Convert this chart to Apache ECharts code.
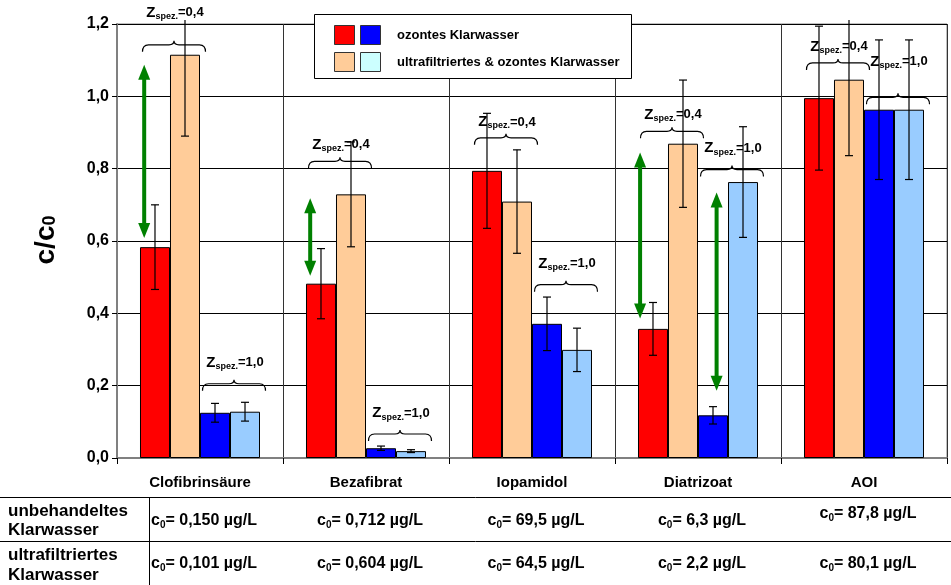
<!DOCTYPE html>
<html>
<head>
<meta charset="utf-8">
<script src="https://cdn.jsdelivr.net/npm/echarts@6/dist/echarts.min.js"></script>
<style>
  html, body { margin: 0; padding: 0; background: #fff; }
  #chart { width: 951px; height: 585px; }
</style>
</head>
<body>
<div id="chart"></div>
<script>
// Substances on the x axis
const categories = ['Clofibrinsäure', 'Bezafibrat', 'Iopamidol', 'Diatrizoat', 'AOI'];

// c/c0 after ozonation, specific ozone dose 0.4
const ozonZ04 = [0.583, 0.482, 0.794, 0.357, 0.995];
const ozonZ04Err = [0.117, 0.097, 0.159, 0.073, 0.199];
const ufOzonZ04 = [1.115, 0.729, 0.709, 0.869, 1.046];
const ufOzonZ04Err = [0.225, 0.145, 0.143, 0.176, 0.210];

// c/c0 after ozonation, specific ozone dose 1.0
const ozonZ10 = [0.125, 0.027, 0.371, 0.118, 0.963];
const ozonZ10Err = [0.026, 0.006, 0.074, 0.024, 0.193];
const ufOzonZ10 = [0.128, 0.019, 0.299, 0.763, 0.963];
const ufOzonZ10Err = [0.026, 0.004, 0.060, 0.153, 0.193];

// Starting concentrations for the table below the chart
const c0Untreated = ['0,150 µg/L', '0,712 µg/L', '69,5 µg/L', '6,3 µg/L', '87,8 µg/L'];
const c0Ultrafiltered = ['0,101 µg/L', '0,604 µg/L', '64,5 µg/L', '2,2 µg/L', '80,1 µg/L'];

// Brace annotations: [category, pair (0 = red/orange, 1 = blue/light blue), brace base, label height, dose]
const braces = [
  [0, 0, 1.123, 1.231, '0,4'], [0, 1, 0.186, 0.264, '1,0'],
  [1, 0, 0.801, 0.866, '0,4'], [1, 1, 0.047, 0.124, '1,0'],
  [2, 0, 0.866, 0.929, '0,4'], [2, 1, 0.460, 0.537, '1,0'],
  [3, 0, 0.884, 0.949, '0,4'], [3, 1, 0.778, 0.857, '1,0'],
  [4, 0, 1.073, 1.138, '0,4'], [4, 1, 0.978, 1.096, '1,0']
];

// Double arrows: [category, bar slot, upper end, lower end]
const arrows = [
  [0, -0.36, 1.087, 0.608],
  [1, -0.36, 0.718, 0.504],
  [3, -0.43, 0.845, 0.386],
  [3, 2.12, 0.734, 0.186]
];

const GAP = 0.277;
const barColors = ['#ff0000', '#ffcc99', '#0000ff', '#99ccff'];
const barValues = [ozonZ04, ufOzonZ04, ozonZ10, ufOzonZ10];
const barErrors = [ozonZ04Err, ufOzonZ04Err, ozonZ10Err, ufOzonZ10Err];
const barNames = ['ozontes Klarwasser (0,4)', 'ultrafiltriertes & ozontes Klarwasser (0,4)',
                  'ozontes Klarwasser (1,0)', 'ultrafiltriertes & ozontes Klarwasser (1,0)'];

const FONT = '"Liberation Sans", Arial, sans-serif';

function barWidthOf(api) {
  return api.size([1, 0])[0] * (1 - GAP) / 4;
}

function errorBarItem(params, api) {
  const cat = api.value(0), slot = api.value(1), val = api.value(2), err = api.value(3);
  const bw = barWidthOf(api);
  const x = api.coord([cat, val])[0] + (slot - 1.5) * bw;
  const ceiling = params.coordSys.y - 4;
  const yTopRaw = api.coord([cat, val + err])[1];
  const yTop = Math.max(yTopRaw, ceiling);
  const yBot = api.coord([cat, val - err])[1];
  const cap = 4;
  const style = { stroke: '#000', lineWidth: 1.2 };
  const children = [
    { type: 'line', shape: { x1: x, y1: yTop, x2: x, y2: yBot }, style },
    { type: 'line', shape: { x1: x - cap, y1: yBot, x2: x + cap, y2: yBot }, style }
  ];
  if (yTopRaw >= ceiling) {
    children.push({ type: 'line', shape: { x1: x - cap, y1: yTop, x2: x + cap, y2: yTop }, style });
  }
  return { type: 'group', children };
}

function braceItem(params, api) {
  const b = braces[params.dataIndex];
  const bw = barWidthOf(api);
  const c = api.coord([b[0], b[2]]);
  const xc = c[0] + (b[1] * 2 - 1) * bw + 4;
  const half = bw + 1.5;
  const yb = c[1];
  const yl = api.coord([b[0], b[3]])[1];
  const p = 'M' + (xc - half) + ',' + yb +
    ' Q' + (xc - half) + ',' + (yb - 7) + ' ' + (xc - half + 6) + ',' + (yb - 7) +
    ' L' + (xc - 5) + ',' + (yb - 7) +
    ' Q' + xc + ',' + (yb - 7) + ' ' + xc + ',' + (yb - 11) +
    ' Q' + xc + ',' + (yb - 7) + ' ' + (xc + 5) + ',' + (yb - 7) +
    ' L' + (xc + half - 6) + ',' + (yb - 7) +
    ' Q' + (xc + half) + ',' + (yb - 7) + ' ' + (xc + half) + ',' + yb;
  return {
    type: 'group',
    children: [
      { type: 'path', shape: { pathData: p }, style: { fill: null, stroke: '#000', lineWidth: 1.2 } },
      {
        type: 'text', x: xc + 1, y: yl,
        style: {
          text: '{z|Z}{s|spez.}{v|=' + b[4] + '}',
          align: 'center', verticalAlign: 'middle',
          rich: {
            z: { fontSize: 15, fontWeight: 'bold', fontFamily: FONT, fill: '#000', lineHeight: 18 },
            s: { fontSize: 9, fontWeight: 'bold', fontFamily: FONT, fill: '#000', lineHeight: 18, padding: [8, 0, 0, 0] },
            v: { fontSize: 13, fontWeight: 'bold', fontFamily: FONT, fill: '#000', lineHeight: 18 }
          }
        }
      }
    ]
  };
}

function arrowItem(params, api) {
  const a = arrows[params.dataIndex];
  const bw = barWidthOf(api);
  const x = api.coord([a[0], 0])[0] + (a[1] - 1.5) * bw;
  const yT = api.coord([a[0], a[2]])[1];
  const yB = api.coord([a[0], a[3]])[1];
  const hw = 6, hh = 15;
  const green = '#008000';
  return {
    type: 'group',
    children: [
      { type: 'rect', shape: { x: x - 2, y: yT + hh - 1, width: 4, height: yB - yT - 2 * hh + 2 }, style: { fill: green } },
      { type: 'polygon', shape: { points: [[x, yT], [x - hw, yT + hh], [x + hw, yT + hh]] }, style: { fill: green } },
      { type: 'polygon', shape: { points: [[x, yB], [x - hw, yB - hh], [x + hw, yB - hh]] }, style: { fill: green } }
    ]
  };
}

const errorData = [];
for (let s = 0; s < 4; s++) {
  for (let i = 0; i < categories.length; i++) {
    errorData.push([i, s, barValues[s][i], barErrors[s][i]]);
  }
}

const chart = echarts.init(document.getElementById('chart'), null, { renderer: 'canvas' });

const series = barValues.map((vals, s) => ({
  name: barNames[s],
  type: 'bar',
  data: vals,
  barGap: '0%',
  barCategoryGap: (GAP * 100) + '%',
  itemStyle: { color: barColors[s], borderColor: '#000', borderWidth: 1 },
  emphasis: { disabled: true },
  z: 2
}));

series.push({
  type: 'custom', name: 'Fehler', renderItem: errorBarItem, data: errorData,
  encode: { x: 0, y: 2 }, z: 5, silent: true, clip: false
});
series.push({
  type: 'custom', name: 'Zspez', renderItem: braceItem,
  data: braces.map(b => [b[0], b[1], b[2], b[3]]),
  encode: { x: 0, y: 2 }, z: 6, silent: true, clip: false
});
series.push({
  type: 'custom', name: 'Pfeile', renderItem: arrowItem,
  data: arrows.map(a => [a[0], a[1], a[2], a[3]]),
  encode: { x: 0, y: 2 }, z: 4, silent: true, clip: false
});

const labelStyle = { fontFamily: FONT, fontWeight: 'bold', color: '#000' };

chart.setOption({
  animation: false,
  backgroundColor: '#fff',
  grid: {
    left: 117, right: 4, top: 24, bottom: 127,
    show: true, borderColor: '#808080', borderWidth: 1, backgroundColor: 'transparent'
  },
  xAxis: {
    type: 'category',
    data: categories,
    axisLine: { lineStyle: { color: '#808080', width: 2 } },
    axisTick: { show: true, length: 6, lineStyle: { color: '#000' } },
    splitLine: { show: true, interval: 0, lineStyle: { color: '#333', width: 1 } },
    axisLabel: Object.assign({ margin: 17, fontSize: 15 }, labelStyle)
  },
  yAxis: {
    type: 'value',
    min: 0, max: 1.2, interval: 0.2,
    axisLine: { show: true, lineStyle: { color: '#808080', width: 2 } },
    axisTick: { show: true, length: 5, lineStyle: { color: '#000' } },
    splitLine: { show: true, lineStyle: { color: '#000', width: 1 } },
    axisLabel: Object.assign({
      margin: 8, fontSize: 16,
      formatter: v => v.toFixed(1).replace('.', ',')
    }, labelStyle)
  },
  series
});

// Legend, axis title and the c0 table are drawn as graphic elements
function drawExtras() {
  const centers = categories.map((c, i) => chart.convertToPixel({ xAxisIndex: 0 }, i));
  const sub = {
    c: { fontSize: 16, fontWeight: 'bold', fontFamily: FONT, fill: '#000', lineHeight: 20 },
    s: { fontSize: 10, fontWeight: 'bold', fontFamily: FONT, fill: '#000', lineHeight: 20, padding: [8, 0, 0, 0] }
  };
  const tableText = (x, y, value) => ({
    type: 'text', x, y, z: 10,
    style: { text: '{c|c}{s|0}{c|= ' + value + '}', align: 'center', verticalAlign: 'middle', rich: sub }
  });
  const leftText = (y, t) => ({
    type: 'text', x: 8, y, z: 10,
    style: { text: t, fontSize: 17, fontWeight: 'bold', fontFamily: FONT, fill: '#000', align: 'left', verticalAlign: 'middle' }
  });
  const elements = [
    // legend
    { type: 'rect', z: 20, shape: { x: 314.5, y: 14.5, width: 317, height: 64 }, style: { fill: '#fff', stroke: '#000', lineWidth: 1 } },
    { type: 'rect', z: 21, shape: { x: 334.5, y: 25.5, width: 20, height: 19 }, style: { fill: '#ff0000', stroke: '#333', lineWidth: 1 } },
    { type: 'rect', z: 21, shape: { x: 360.5, y: 25.5, width: 20, height: 19 }, style: { fill: '#0000ff', stroke: '#333', lineWidth: 1 } },
    { type: 'rect', z: 21, shape: { x: 334.5, y: 52.5, width: 20, height: 19 }, style: { fill: '#ffcc99', stroke: '#333', lineWidth: 1 } },
    { type: 'rect', z: 21, shape: { x: 360.5, y: 52.5, width: 20, height: 19 }, style: { fill: '#ccffff', stroke: '#333', lineWidth: 1 } },
    { type: 'text', z: 21, x: 397, y: 35, style: { text: 'ozontes Klarwasser', fontSize: 13, fontWeight: 'bold', fontFamily: FONT, fill: '#000', verticalAlign: 'middle' } },
    { type: 'text', z: 21, x: 397, y: 62, style: { text: 'ultrafiltriertes & ozontes Klarwasser', fontSize: 13, fontWeight: 'bold', fontFamily: FONT, fill: '#000', verticalAlign: 'middle' } },
    // y axis title
    {
      type: 'text', x: 46, y: 240, rotation: Math.PI / 2, z: 10,
      style: {
        text: '{c|c/c}{s|0}', align: 'center', verticalAlign: 'middle',
        rich: {
          c: { fontSize: 28, fontWeight: 'bold', fontFamily: FONT, fill: '#000', lineHeight: 32 },
          s: { fontSize: 18, fontWeight: 'bold', fontFamily: FONT, fill: '#000', lineHeight: 32, padding: [9, 0, 0, 0] }
        }
      }
    },
    // table grid
    { type: 'line', z: 10, shape: { x1: 0, y1: 497.5, x2: 951, y2: 497.5 }, style: { stroke: '#000', lineWidth: 1 } },
    { type: 'line', z: 10, shape: { x1: 0, y1: 541.5, x2: 951, y2: 541.5 }, style: { stroke: '#000', lineWidth: 1 } },
    { type: 'line', z: 10, shape: { x1: 149.5, y1: 497, x2: 149.5, y2: 585 }, style: { stroke: '#000', lineWidth: 1 } },
    leftText(511, 'unbehandeltes'), leftText(530, 'Klarwasser'),
    leftText(555, 'ultrafiltriertes'), leftText(575, 'Klarwasser')
  ];
  c0Untreated.forEach((v, i) => elements.push(tableText(centers[i] + 4, i === 4 ? 514 : 521, v)));
  c0Ultrafiltered.forEach((v, i) => elements.push(tableText(centers[i] + 4, 564, v)));
  chart.setOption({ graphic: { elements } });
}
drawExtras();
</script>
</body>
</html>
